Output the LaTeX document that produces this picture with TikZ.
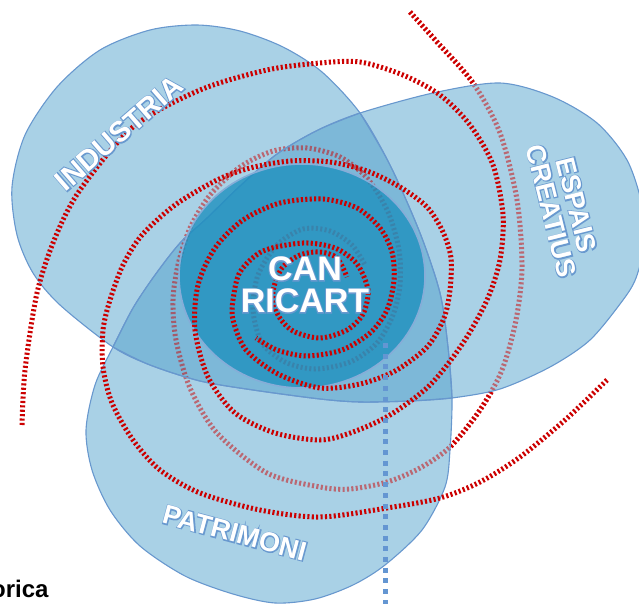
\documentclass[tikz,border=0pt]{standalone}
\usepackage{fontspec}
\setmainfont{Liberation Sans}
\usepackage{xcolor}
\usetikzlibrary{calc}

\definecolor{petal}{RGB}{169,209,230}
\definecolor{overlap}{RGB}{125,184,216}
\definecolor{core}{RGB}{28,143,190}
\definecolor{rim}{RGB}{104,152,206}
\definecolor{ripplered}{RGB}{204,0,0}
\definecolor{dotblue}{RGB}{100,150,210}

% white letters with a thin blue outline
\newcommand{\rimtext}[1]{\rlap{\special{pdf:literal direct 1 Tr 2 w 0.41 0.6 0.81 RG}#1\special{pdf:literal direct 0 Tr}}#1}

\begin{document}
\begin{tikzpicture}[x=1pt,y=-1pt,
    ripple/.style={ripplered,line width=5pt,dash pattern=on 2.1pt off 2.3pt},
    rimline/.style={rim,line width=1.1pt},
    petallabel/.style={text=white,inner sep=0pt,align=center}]
  \useasboundingbox (0,0) rectangle (639,604);
  % petals: each one ends in a tip on the middle triangle
  \def\industria{plot[smooth] coordinates {(452,398) (448,347) (440,293) (420,233) (390,165) (360,113)
      (322,72) (283,47) (240,31) (197,25) (150,30) (100,50) (57,87) (25,135) (12,187) (17,235)
      (33,273) (60,305) (113,347) (150,365) (200,381) (253,390) (320,399) (360,402) (410,401) (452,398)} -- cycle}
  \def\patrimoni{plot[smooth] coordinates {(360,113) (390,165) (420,233) (440,293) (448,347) (452,398)
      (450,450) (445,487) (422,530) (385,565) (353,585) (315,599) (275,603) (233,594) (185,576)
      (140,546) (110,510) (92,470) (86,430) (95,385) (113,347) (133,308) (155,275) (180,243)
      (207,218) (240,186) (277,154) (318,130) (360,113)} -- cycle}
  \def\espais{plot[smooth] coordinates {(113,347) (133,308) (155,275) (180,243) (207,218) (240,186)
      (277,154) (318,130) (360,113) (433,93) (500,83) (553,97) (597,123) (627,160) (642,205)
      (644,245) (636,278) (623,300) (590,340) (550,367) (500,389) (452,398) (410,401) (360,402)
      (320,399) (253,390) (200,381) (150,365) (113,347)} -- cycle}
  % spiral that lies under the petals
  \def\backwave{plot[smooth] coordinates {(410,12) (437,42) (473,83) (500,133) (517,200) (522,267)
      (516,320) (502,370) (480,410) (450,447) (420,468) (387,482) (350,489) (320,487) (267,473)
      (217,433) (190,388) (176,340) (173,300) (178,265) (190,228) (210,195) (240,167) (273,151)
      (307,148) (340,157) (367,178) (388,212) (399,250) (400,285) (393,315) (377,343) (350,362)
      (315,369) (285,362) (262,343) (253,310) (258,275) (277,245) (303,229) (330,231) (352,245)
      (365,265)}}
  \draw[ripple] \backwave;
  \fill[petal] \industria;
  \fill[petal] \patrimoni;
  \fill[petal] \espais;
  \begin{scope}
    \clip \industria;
    \clip \patrimoni;
    \fill[overlap] \espais;
  \end{scope}
  \draw[ripple,opacity=.5] \backwave;
  \draw[rimline] \industria;
  \draw[rimline] \patrimoni;
  \draw[rimline] \espais;
  % Can Ricart
  \fill[core,opacity=.78] (302,276) ellipse [x radius=123,y radius=112];
  \draw[rim!80!white,line width=1.6pt] (302,276) ellipse [x radius=123,y radius=112];
  % the two spirals on top
  \draw[ripple] plot[smooth] coordinates {(22,425) (25,370) (37,293) (55,238) (80,190) (133,127)
      (200,90) (267,70) (320,63) (360,62) (403,75) (440,95) (470,125) (493,165) (503,215) (500,260)
      (487,300) (463,343) (430,385) (390,415) (353,432) (320,440) (275,433) (235,413) (208,377)
      (195,330) (198,285) (215,248) (243,220) (280,203) (323,199) (357,208) (380,228) (392,252)
      (394,280) (387,310) (370,333) (342,350) (307,356) (277,350) (256,338)};
  \draw[ripple] plot[smooth] coordinates {(607,380) (565,420) (520,457) (480,482) (440,498) (387,508)
      (320,517) (260,510) (200,493) (160,470) (133,440) (112,403) (103,367) (103,330) (110,300)
      (123,265) (142,235) (175,205) (217,180) (250,168) (290,161) (330,162) (367,171) (400,187)
      (427,207) (443,232) (451,258) (450,290) (444,318) (427,347) (395,371) (360,384) (320,388)
      (278,374) (246,350) (233,320) (233,300) (240,272) (263,251) (303,243) (335,248) (357,264)
      (368,290) (363,314) (347,330) (320,338) (293,331) (278,315) (273,292) (282,268) (300,255)
      (320,252) (337,258) (347,277)};
  % dotted axis
  \coordinate (axtop) at (385,343);
  \coordinate (axbot) at (385,610);
  \draw[dotblue,line width=5pt,dash pattern=on 5pt off 5.7pt] (axtop) -- (axbot);
  % labels
  \node[petallabel,font=\bfseries\fontsize{34}{32}\selectfont] (canricart) at (305,285)
      {\rimtext{CAN}\\\rimtext{RICART}};
  \node[petallabel,font=\bfseries\fontsize{29}{29}\selectfont,rotate=41] (industria) at (119,133)
      {\rimtext{INDUSTRIA}};
  \node[petallabel,font=\bfseries\fontsize{27}{26}\selectfont,rotate=-76] (espais) at (564,208)
      {\rimtext{ESPAIS}\\\rimtext{CREATIUS}};
  \node[petallabel,font=\bfseries\fontsize{27}{27}\selectfont,rotate=-15] (patrimoni) at (235,533)
      {\rimtext{PATRIMONI}};
  \node[anchor=base west,inner sep=0pt,font=\bfseries\fontsize{24}{24}\selectfont] (orica) at (-9,597) {orica};
\end{tikzpicture}
\end{document}
